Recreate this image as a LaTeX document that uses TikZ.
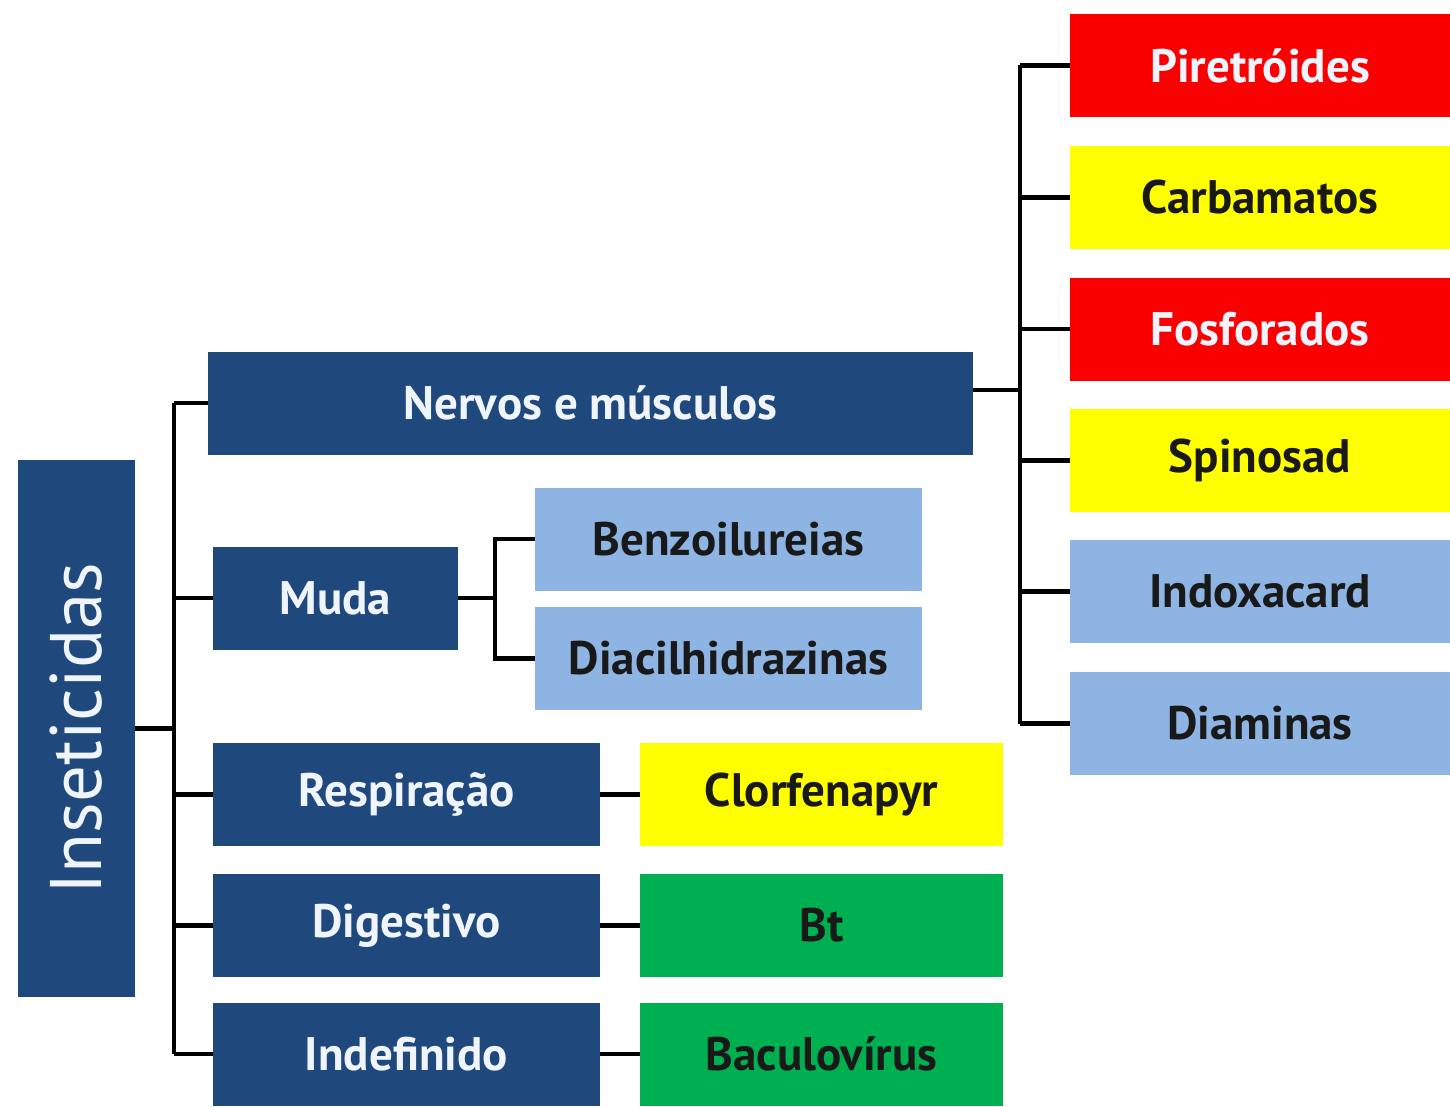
\documentclass[tikz,border=0pt]{standalone}
\usepackage{fontspec}
\setmainfont{PT Sans}
\usetikzlibrary{calc}

\definecolor{escuro}{RGB}{31,73,125}
\definecolor{claro}{RGB}{141,180,226}
\definecolor{vermelho}{RGB}{250,0,0}
\definecolor{amarelo}{RGB}{255,255,0}
\definecolor{verde}{RGB}{0,176,80}
\definecolor{letra}{RGB}{25,25,25}
\definecolor{branco}{RGB}{240,244,252}

\tikzset{
	caixa/.style={rectangle, inner sep=0pt, minimum height=103pt,
		font=\fontsize{47}{54}\selectfont\bfseries},
	grupo/.style={caixa, fill=escuro, text=branco},
	azul/.style={caixa, fill=claro, text=letra},
	tipoR/.style={caixa, fill=vermelho, text=branco},
	tipoA/.style={caixa, fill=amarelo, text=letra},
	tipoV/.style={caixa, fill=verde, text=letra},
	liga/.style={line width=4.5pt}
}

\begin{document}
\begin{tikzpicture}[x=1pt, y=-1pt]
	\useasboundingbox (0,0) rectangle (1450,1107);

	\node (ins) at (76.5, 728.5) [grupo, rotate=90, minimum width=537pt, minimum height=117pt,
		font=\fontsize{73}{80}\selectfont] {Inseticidas};

	\node (nerv) at (590.5, 403) [grupo, minimum width=765pt] {Nervos e músculos};
	\node (muda) at (335.5, 598) [grupo, minimum width=245pt] {Muda};
	\node (resp) at (406.5, 794.5) [grupo, minimum width=387pt] {Respiração};
	\node (dige) at (406.5, 925.5) [grupo, minimum width=387pt] {Digestivo};
	\node (inde) at (406.5, 1054) [grupo, minimum width=387pt] {Indefinido};

	\node (benz) at (728.5, 539) [azul, minimum width=387pt] {Benzoilureias};
	\node (diac) at (728.5, 658.5) [azul, minimum width=387pt] {Diacilhidrazinas};

	\node (clor) at (821.5, 794.5) [tipoA, minimum width=363pt] {Clorfenapyr};
	\node (bt) at (821.5, 925.5) [tipoV, minimum width=363pt] {Bt};
	\node (bacu) at (821.5, 1054) [tipoV, minimum width=363pt] {Baculovírus};

	\node (pire) at (1260, 65.5) [tipoR, minimum width=380pt] {Piretróides};
	\node (carb) at (1260, 197.5) [tipoA, minimum width=380pt] {Carbamatos};
	\node (fosf) at (1260, 329) [tipoR, minimum width=380pt] {Fosforados};
	\node (spin) at (1260, 460.5) [tipoA, minimum width=380pt] {Spinosad};
	\node (indo) at (1260, 591.5) [azul, minimum width=380pt] {Indoxacard};
	\node (diam) at (1260, 723.5) [azul, minimum width=380pt] {Diaminas};

	% tronco principal
	\coordinate (tronco) at (174, 0);
	\draw [liga]
		(ins.south) -- (ins.south -| tronco);
	\draw [liga]
		(nerv.west -| tronco) -- (inde.west -| tronco);
	\foreach \n in {nerv, muda, resp, dige, inde}
		\draw [liga] (\n.west -| tronco) -- (\n.west);

	% muda
	\coordinate (garfo) at ($(muda.east)+(37,0)$);
	\draw [liga]
		(muda.east) -- (garfo);
	\draw [liga]
		(benz.west) -| (garfo) |- (diac.west);

	\draw [liga] (resp) -- (clor);
	\draw [liga] (dige) -- (bt);
	\draw [liga] (inde) -- (bacu);

	% nervos e musculos
	\coordinate (saida) at ($(nerv.east)+(0,-13)$);
	\coordinate (ramo) at (1020, 0);
	\draw [liga]
		(saida) -- (saida -| ramo);
	\draw [liga]
		(pire.west -| ramo) -- (diam.west -| ramo);
	\foreach \n in {pire, carb, fosf, spin, indo, diam}
		\draw [liga] (\n.west -| ramo) -- (\n.west);
\end{tikzpicture}
\end{document}
